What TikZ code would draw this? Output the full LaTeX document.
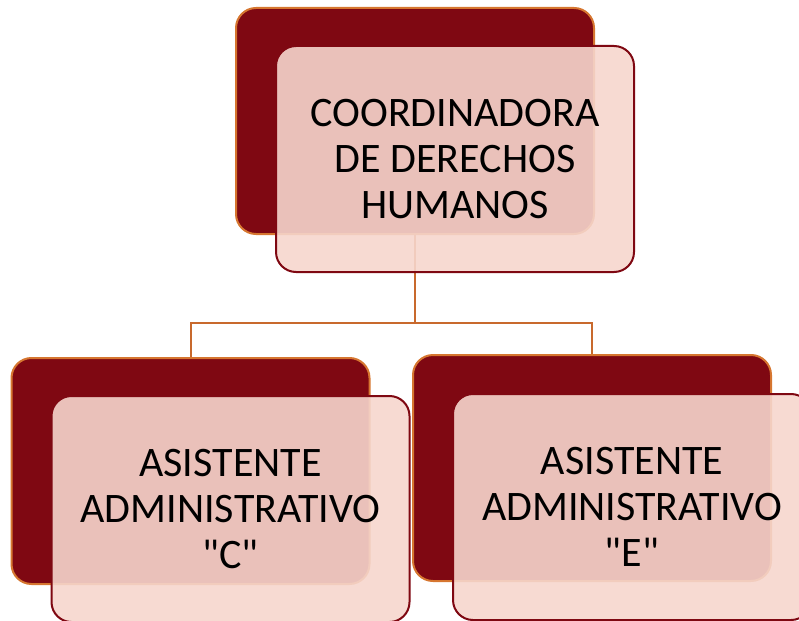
\documentclass[tikz,border=0pt]{standalone}
\usepackage{fontspec}
\setmainfont{Carlito}
\usepackage{tikz}
\definecolor{wine}{RGB}{127,8,18}
\definecolor{rust}{RGB}{214,118,48}
\definecolor{blush}{RGB}{246,214,205}
\definecolor{linkc}{RGB}{200,105,45}

\tikzset{
  backbox/.style={draw=rust, line width=2pt, fill=wine, rounded corners=20pt,
    minimum width=358pt, minimum height=226pt, inner sep=0pt},
  frontbox/.style={draw=wine, line width=2pt, fill=blush, fill opacity=0.9,
    text opacity=1, rounded corners=20pt, minimum width=358pt, minimum height=226pt,
    inner sep=0pt, align=center, font=\fontsize{42}{46}\selectfont},
  link/.style={draw=linkc, line width=2pt}
}

\begin{document}
\begin{tikzpicture}[x=1pt, y=-1pt]
        \useasboundingbox (0,0) rectangle (799,620);

        % back boxes
        \node[backbox] (back0) at (415,121) {};
        \node[backbox] (back1) at (190.5,471) {};
        \node[backbox] (back2) at (592,468) {};

        % links
        \coordinate (split) at (415,323);
        \draw[link] (back0.south) -- (split) -| (back1.north);
        \draw[link] (split) -| (back2.north);

        % coordinadora
        \node[frontbox] (coord) at (455,159) {COORDINADORA\\DE DERECHOS\\HUMANOS};

        % asistentes
        \node[frontbox] (asistC) at (230.5,509) {ASISTENTE\\ADMINISTRATIVO\\\textquotedbl C\textquotedbl};
        \node[frontbox] (asistE) at (632,507) {ASISTENTE\\ADMINISTRATIVO\\\textquotedbl E\textquotedbl};
\end{tikzpicture}
\end{document}
